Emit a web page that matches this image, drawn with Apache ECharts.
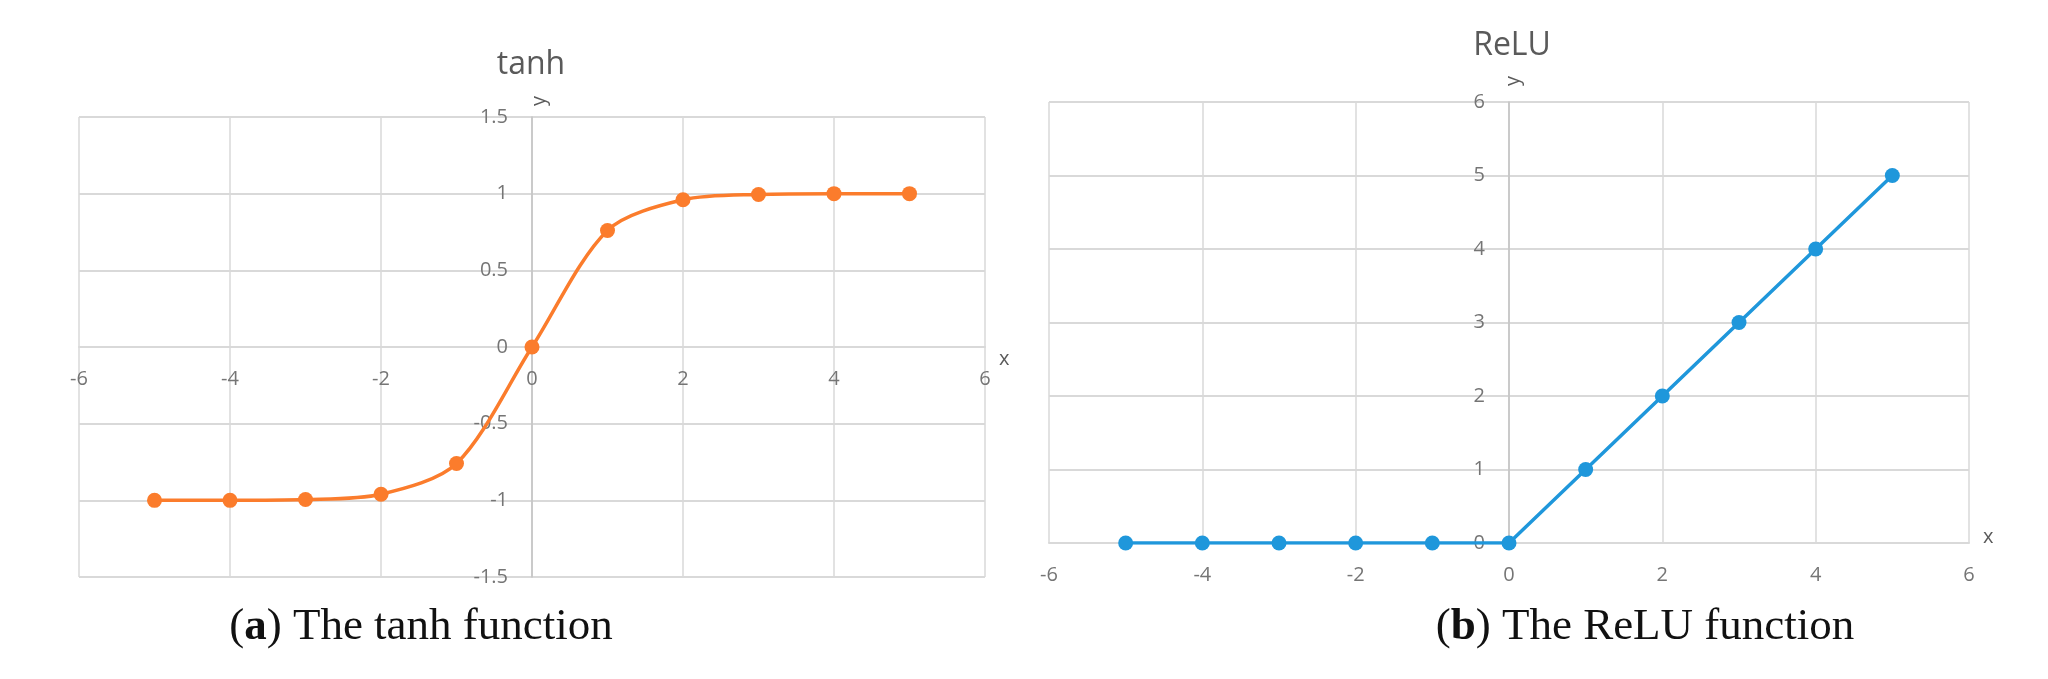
<!DOCTYPE html>
<html>
<head>
<meta charset="utf-8">
<script src="https://cdn.jsdelivr.net/npm/echarts@6/dist/echarts.min.js"></script>
<style>
  html, body { margin: 0; padding: 0; background: #ffffff; }
  #chart { width: 2048px; height: 679px; }
</style>
</head>
<body>
<div id="chart"></div>
<script>
// ---- data ----
const xValues = [-5, -4, -3, -2, -1, 0, 1, 2, 3, 4, 5];
const tanhValues = [-1.0, -1.0, -0.995, -0.96, -0.76, 0, 0.76, 0.96, 0.995, 1.0, 1.0];
const reluValues = [0, 0, 0, 0, 0, 0, 1, 2, 3, 4, 5];
const xRange = [-6, 6];
const xStep = 2;
const tanhYRange = [-1.5, 1.5];
const tanhYStep = 0.5;
const reluYRange = [0, 6];
const reluYStep = 1;
const chartTitles = ['tanh', 'ReLU'];
const captionLetters = ['a', 'b'];
const captionTexts = [' The tanh function', ' The ReLU function'];
const axisNames = ['x', 'y'];

// ---- layout & styles ----
const W = 2048, H = 679;
const G1 = { left: 79, right: 985, top: 117, bottom: 577 };
const G2 = { left: 1049, right: 1969, top: 102, bottom: 543 };
const ORANGE = '#fb7c2c';
const BLUE = '#1f97db';
const GRID_COLOR = '#d9d9d9';
const AXIS_COLOR = '#c2c2c2';
const LABEL_COLOR = '#757575';
const TITLE_COLOR = '#5a5a5a';
const SANS = 'Open Sans';
const SERIF = 'Liberation Serif';

function pairs(xs, ys) { return xs.map((x, i) => [x, ys[i]]); }
// shift an edge axis so that it crosses the other axis at zero
function zeroOffset(lengthPx, range) { return -lengthPx * (0 - range[0]) / (range[1] - range[0]); }

function xAxisCfg(gridIndex, g, yRange, nameStyle) {
  return {
    type: 'value', gridIndex,
    min: xRange[0], max: xRange[1], interval: xStep,
    offset: zeroOffset(g.bottom - g.top, yRange),
    name: axisNames[0], nameLocation: 'end', nameGap: 14,
    nameTextStyle: Object.assign({ color: TITLE_COLOR, fontFamily: SANS, fontSize: 20 }, nameStyle),
    axisLine: { show: true, onZero: false, lineStyle: { color: GRID_COLOR, width: 2 } },
    axisTick: { show: false },
    axisLabel: { color: LABEL_COLOR, fontFamily: SANS, fontSize: 20, margin: 22 },
    splitLine: { show: true, lineStyle: { color: GRID_COLOR, width: 1.5 } }
  };
}
function yAxisCfg(gridIndex, g, range, step, gap, lh) {
  return {
    type: 'value', gridIndex,
    min: range[0], max: range[1], interval: step,
    offset: zeroOffset(g.right - g.left, xRange),
    name: axisNames[1], nameLocation: 'end', nameGap: gap, nameRotate: 90,
    nameTextStyle: { color: TITLE_COLOR, fontFamily: SANS, fontSize: 20, verticalAlign: 'top', lineHeight: lh },
    axisLine: { show: true, onZero: false, lineStyle: { color: AXIS_COLOR, width: 1.5 } },
    axisTick: { show: false },
    axisLabel: { color: LABEL_COLOR, fontFamily: SANS, fontSize: 20, margin: 24 },
    splitLine: { show: true, lineStyle: { color: GRID_COLOR, width: 2 } }
  };
}
function caption(i, left) {
  return {
    text: '{p|(}{b|' + captionLetters[i] + '}{p|)' + captionTexts[i] + '}',
    left: left, top: 600, textAlign: 'center',
    textStyle: {
      rich: {
        p: { fontFamily: SERIF, fontSize: 45, color: '#111', fontWeight: 'normal' },
        b: { fontFamily: SERIF, fontSize: 45, color: '#111', fontWeight: 'bold' }
      }
    }
  };
}

const chart = echarts.init(document.getElementById('chart'), null, { renderer: 'canvas' });
chart.setOption({
  backgroundColor: '#ffffff',
  animation: false,
  title: [
    { text: chartTitles[0], left: 526, top: 44, textAlign: 'center',
      textStyle: { color: TITLE_COLOR, fontFamily: SANS, fontSize: 32, fontWeight: 'normal' } },
    { text: chartTitles[1], left: 1507, top: 25, textAlign: 'center',
      textStyle: { color: TITLE_COLOR, fontFamily: SANS, fontSize: 32, fontWeight: 'normal' } },
    caption(0, 416),
    caption(1, 1640)
  ],
  grid: [
    { left: G1.left, right: W - G1.right, top: G1.top, bottom: H - G1.bottom, containLabel: false },
    { left: G2.left, right: W - G2.right, top: G2.top, bottom: H - G2.bottom, containLabel: false }
  ],
  xAxis: [
    xAxisCfg(0, G1, tanhYRange, { verticalAlign: 'top', lineHeight: 24 }),
    xAxisCfg(1, G2, reluYRange, { verticalAlign: 'bottom', lineHeight: 12 })
  ],
  yAxis: [
    yAxisCfg(0, G1, tanhYRange, tanhYStep, 11, 14),
    yAxisCfg(1, G2, reluYRange, reluYStep, 16, 8)
  ],
  series: [
    { type: 'line', xAxisIndex: 0, yAxisIndex: 0, data: pairs(xValues, tanhValues),
      smooth: 0.3, symbol: 'circle', symbolSize: 15, showAllSymbol: true,
      itemStyle: { color: ORANGE }, lineStyle: { color: ORANGE, width: 3.5 } },
    { type: 'line', xAxisIndex: 1, yAxisIndex: 1, data: pairs(xValues, reluValues),
      smooth: false, symbol: 'circle', symbolSize: 15, showAllSymbol: true,
      itemStyle: { color: BLUE }, lineStyle: { color: BLUE, width: 3.5 } }
  ]
});
</script>
</body>
</html>
